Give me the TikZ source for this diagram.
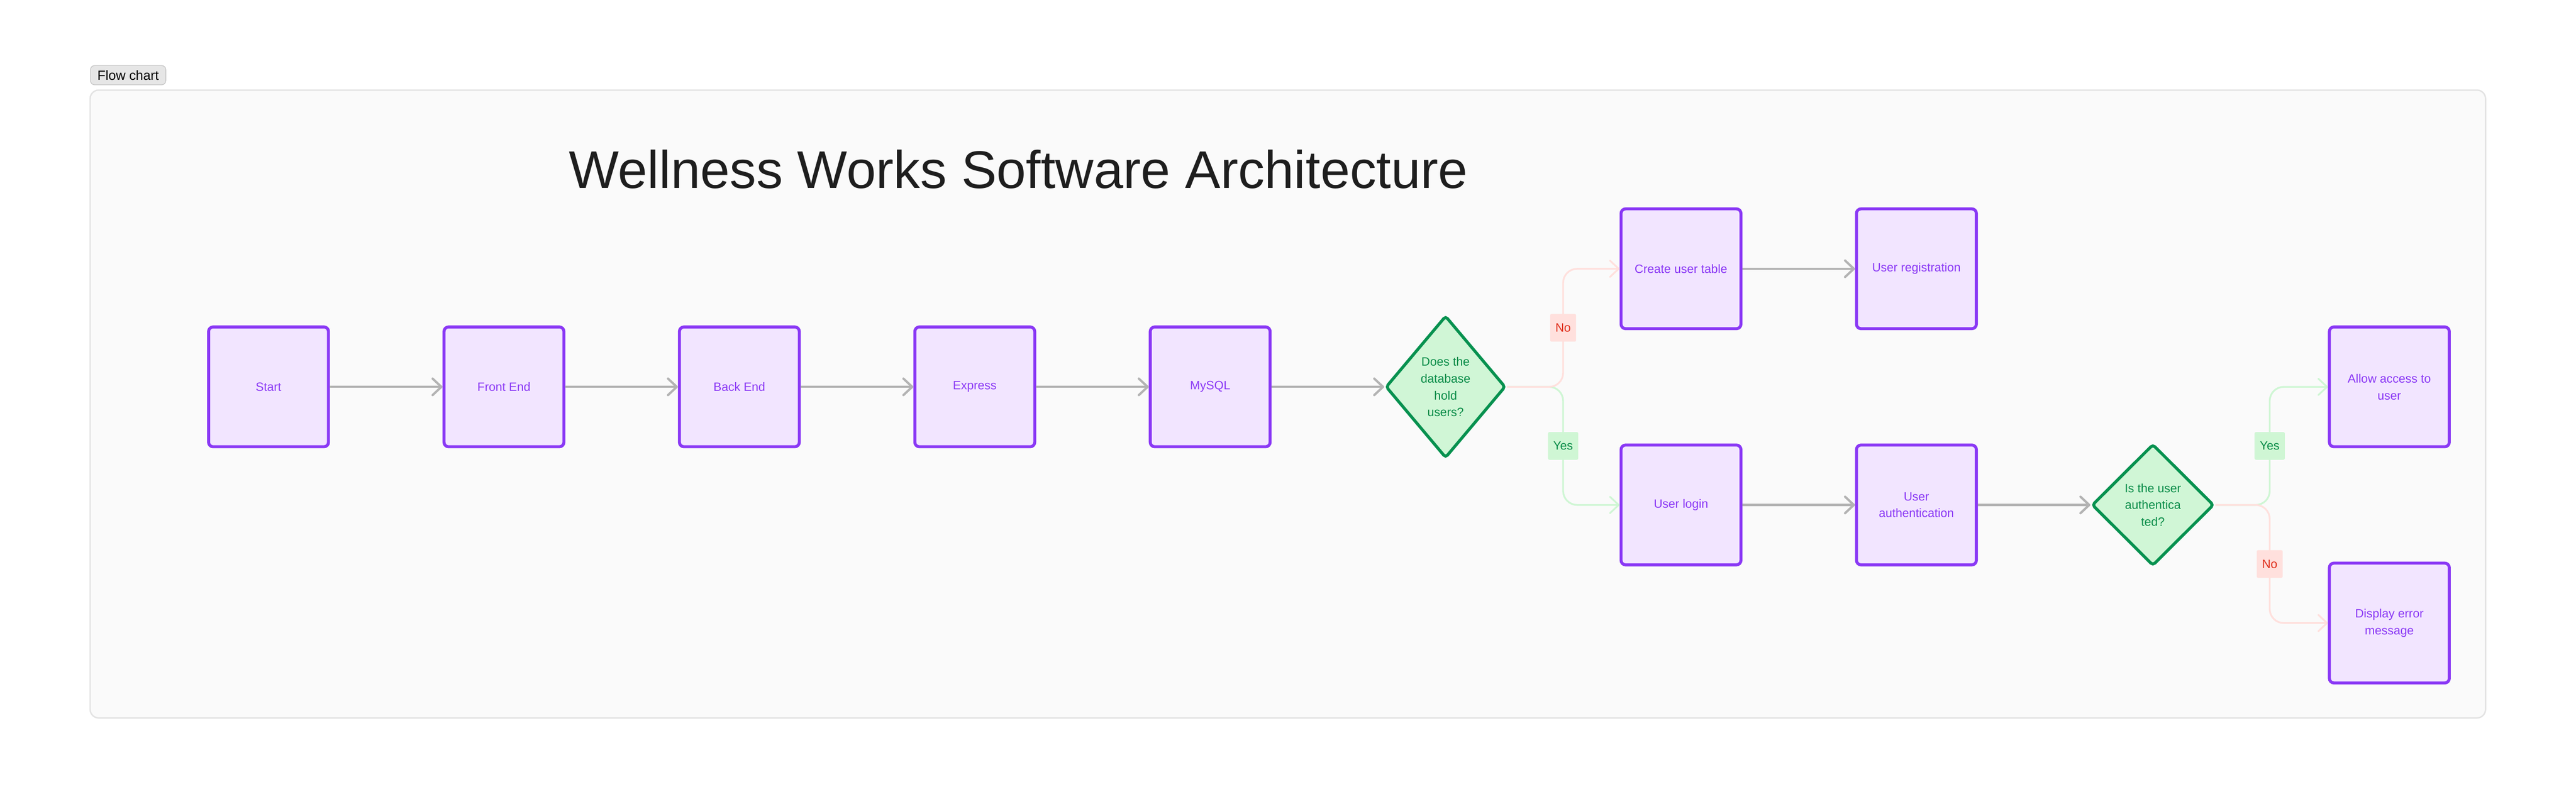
\documentclass[tikz,border=0pt]{standalone}
\usepackage{fontspec}
\setmainfont{Liberation Sans}
\usetikzlibrary{shapes.geometric, positioning, arrows.meta}
\definecolor{boxborder}{HTML}{8A38F5}
\definecolor{boxfill}{HTML}{F2E5FF}
\definecolor{decborder}{HTML}{06914F}
\definecolor{decfill}{HTML}{D0F6D6}
\definecolor{dectext}{HTML}{078B47}
\definecolor{yesfill}{HTML}{CFF6D4}
\definecolor{nofill}{HTML}{FFE0DD}
\definecolor{notext}{HTML}{E02E1B}
\definecolor{flowgray}{HTML}{B3B3B3}
\definecolor{framefill}{HTML}{FAFAFA}
\definecolor{frameline}{HTML}{E3E3E3}
\definecolor{tagfill}{HTML}{E6E6E6}
\definecolor{tagline}{HTML}{C6C6C6}
\definecolor{titletext}{HTML}{1E1E1E}

\begin{document}
\begin{tikzpicture}[
          font=\fontsize{9.8}{13.7}\selectfont,
          node distance=3.21cm,
          procbox/.style={draw=boxborder, fill=boxfill, line width=0.085cm, rounded corners=0.13cm,
            minimum width=3.42cm, minimum height=3.42cm, text=boxborder, align=center, inner sep=0pt},
          decision/.style={diamond, draw=decborder, fill=decfill, line width=0.085cm, rounded corners=0.08cm,
            text=dectext, align=center, inner sep=0pt},
          flowline/.style={draw=flowgray, line width=0.065cm, -{Straight Barb[length=0.25cm, width=0.47cm, round]}},
          yesline/.style={draw=yesfill, line width=0.05cm, rounded corners=0.4cm, -{Straight Barb[length=0.25cm, width=0.47cm, round]}},
          noline/.style={draw=nofill, line width=0.05cm, rounded corners=0.4cm, -{Straight Barb[length=0.25cm, width=0.47cm, round]}},
          yeslabel/.style={fill=yesfill, text=dectext, rounded corners=0.04cm, minimum height=0.79cm, inner xsep=0.15cm, inner ysep=0pt},
          nolabel/.style={fill=nofill, text=notext, rounded corners=0.04cm, minimum height=0.79cm, inner xsep=0.15cm, inner ysep=0pt}
        ]
        \useasboundingbox (0,0) rectangle (73.48,-23.08);
        \fill[white] (0,0) rectangle (73.48,-23.08);
        \draw[draw=frameline, fill=framefill, line width=0.04cm, rounded corners=0.25cm] (2.57,-2.57) rectangle (70.9,-20.49);
        \node[draw=tagline, fill=tagfill, line width=0.02cm, rounded corners=0.12cm, minimum width=2.15cm, minimum height=0.55cm,
          inner sep=0pt, font=\fontsize{10.8}{13}\selectfont, anchor=south west] (tag) at (2.57,-2.43) {Flow chart};
        \node[anchor=base, font=\fontsize{43}{50}\selectfont, text=titletext] (title) at (29.05,-5.375) {Wellness Works Software Architecture};

        \node[procbox] (start) at (7.66,-11.04) {Start};
        \node[procbox, right=of start] (front) {Front End};
        \node[procbox, right=of front] (back) {Back End};
        \node[procbox, right=of back] (express) {Express};
        \node[procbox, right=of express] (mysql) {MySQL};
        \node[decision, minimum width=3.42cm, minimum height=4.06cm, right=of mysql] (dbcheck) {Does the\\database\\hold\\users?};
        \node[procbox, right=of dbcheck, yshift=3.37cm] (create) {Create user table};
        \node[procbox, right=of create] (register) {User registration};
        \node[procbox, right=of dbcheck, yshift=-3.37cm] (login) {User login};
        \node[procbox, right=of login] (userauth) {User\\authentication};
        \node[decision, minimum width=3.48cm, minimum height=3.47cm, right=of userauth] (authcheck) {Is the user\\authentica\\ted?};
        \node[procbox, right=of authcheck, yshift=3.37cm] (allow) {Allow access to\\user};
        \node[procbox, right=of authcheck, yshift=-3.37cm] (errormsg) {Display error\\message};

        \foreach \from/\to in {start/front, front/back, back/express, express/mysql, mysql/dbcheck,
            create/register, login/userauth, userauth/authcheck}
          \draw[flowline] (\from.east) -- (\to.west);

        \draw[yesline] (dbcheck.east) -- ++(1.6,0) |- (login.west) node[yeslabel, pos=0.25] (yesdb) {Yes};
        \draw[noline] (dbcheck.east) -- ++(1.6,0) |- (create.west) node[nolabel, pos=0.25] (nodb) {No};
        \draw[yesline] (authcheck.east) -- ++(1.55,0) |- (allow.west) node[yeslabel, pos=0.25] (yesauth) {Yes};
        \draw[noline] (authcheck.east) -- ++(1.55,0) |- (errormsg.west) node[nolabel, pos=0.25] (noauth) {No};
\end{tikzpicture}
\end{document}
